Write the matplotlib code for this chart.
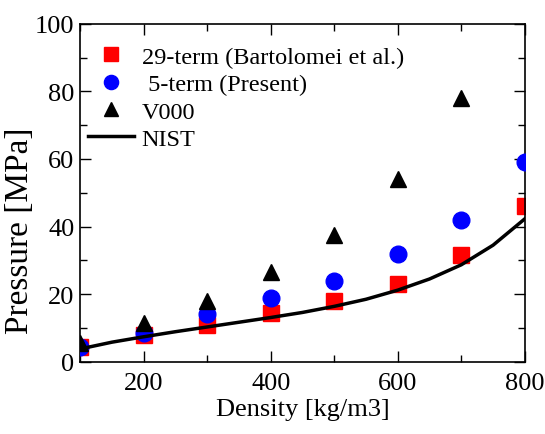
import matplotlib.pyplot as plt
from matplotlib.ticker import MultipleLocator

plt.rcParams['font.family'] = ['Liberation Serif', 'DejaVu Serif']

density = [100, 200, 300, 400, 500, 600, 700, 800]
p_29term = [4.5, 8.0, 11.0, 14.5, 18.0, 23.0, 31.5, 46.0]
p_5term = [4.5, 8.5, 14.0, 19.0, 24.0, 32.0, 42.0, 59.0]
v_density = [100, 200, 300, 400, 500, 600, 700]
p_v000 = [5.5, 11.5, 18.0, 26.5, 37.5, 54.0, 78.0]

nist_density = [100, 150, 200, 250, 300, 350, 400, 450, 500, 550, 600, 650, 700, 750, 800]
nist_p = [3.8, 5.8, 7.4, 8.9, 10.3, 11.7, 13.1, 14.6, 16.4, 18.5, 21.2, 24.5, 28.7, 34.5, 42.3]

fig = plt.figure(figsize=(5.45, 4.35), dpi=100)
ax = fig.add_axes([0.147, 0.166, 0.816, 0.777])

ax.plot(density, p_29term, 's', color='red', markersize=12, label='29-term (Bartolomei et al.)', zorder=2)
ax.plot(density, p_5term, 'o', color='blue', markersize=12, label=' 5-term (Present)', zorder=3)
ax.plot(v_density, p_v000, '^', color='black', markersize=12, label='V000', zorder=4)
ax.plot(nist_density, nist_p, '-', color='black', linewidth=2.5, label='NIST', zorder=3.5)

ax.set_xlim(100, 800)
ax.set_ylim(0, 100)
ax.xaxis.set_major_locator(MultipleLocator(200))
ax.xaxis.set_minor_locator(MultipleLocator(100))
ax.yaxis.set_major_locator(MultipleLocator(20))
ax.yaxis.set_minor_locator(MultipleLocator(10))
ax.tick_params(which='both', direction='in', top=True, right=True, labelsize=19)
ax.tick_params(axis='x', pad=7)
ax.tick_params(axis='y', pad=4)
ax.tick_params(which='major', length=8, width=1)
ax.tick_params(which='minor', length=5, width=1)
for s in ax.spines.values():
    s.set_linewidth(1.2)

ax.set_xlabel('Density [kg/m3]', fontsize=19, labelpad=3)
ax.set_ylabel('Pressure [MPa]', fontsize=24, labelpad=2)
ax.yaxis.set_label_coords(-0.102, 0.39)

ax.legend(loc='upper left', frameon=False, fontsize=17.5, handlelength=1.9,
          handletextpad=0.3, labelspacing=0.22, borderaxespad=0.3,
          markerscale=0.85, bbox_to_anchor=(-0.02, 0.985))

fig.savefig('out.png', dpi=100)
